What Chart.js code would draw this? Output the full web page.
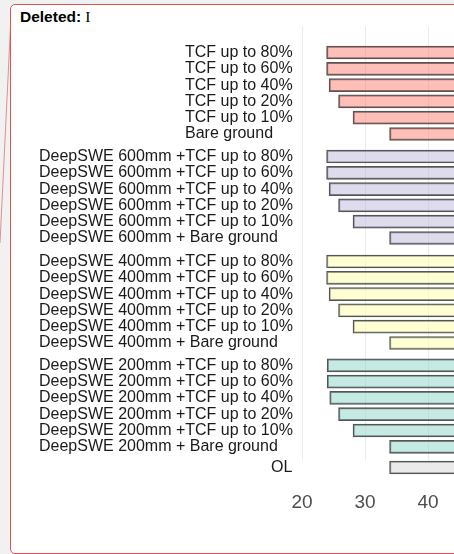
<!DOCTYPE html>
<html>
<head>
<meta charset="utf-8">
<script src="https://cdn.jsdelivr.net/npm/chart.js@4.4.1/dist/chart.umd.min.js"></script>
<style>
  html, body { margin:0; padding:0; width:454px; height:554px; overflow:hidden; background:#f1f1f1; }
  #box { position:absolute; left:10px; top:4px; width:600px; height:548px; border:1px solid #e35353; border-radius:5px; background:#fff; }
  #hdr { position:absolute; left:20px; top:8px; font:bold 15.5px "Liberation Sans", Arial, sans-serif; color:#000; white-space:nowrap; }
  #hdr span { font:normal 15.5px "Liberation Serif", "Times New Roman", serif; margin-left:4px; }
  #conn { position:absolute; left:0; top:0; }
  canvas { position:absolute; left:0; }
</style>
</head>
<body>
<svg id="conn" width="20" height="260"><line x1="11.5" y1="6" x2="0" y2="243" stroke="#e98a8a" stroke-width="1"/></svg>
<div id="box"></div>
<div id="hdr">Deleted:<span>I</span></div>
<canvas id="g1" width="491" height="119" style="top:26px"></canvas>
<canvas id="g2" width="491" height="104" style="top:145px"></canvas>
<canvas id="g3" width="491" height="105" style="top:249px"></canvas>
<canvas id="g4" width="491" height="106" style="top:354px"></canvas>
<canvas id="g5" width="491" height="60"  style="top:460px"></canvas>
<script>
// ---------- data ----------
const tcfLabels = ['TCF up to 80%','TCF up to 60%','TCF up to 40%','TCF up to 20%','TCF up to 10%','Bare ground'];
const tcfStart  = [23.9, 23.9, 24.3, 25.8, 28.1, 33.9];

const swe600Labels = ['DeepSWE 600mm +TCF up to 80%','DeepSWE 600mm +TCF up to 60%','DeepSWE 600mm +TCF up to 40%','DeepSWE 600mm +TCF up to 20%','DeepSWE 600mm +TCF up to 10%','DeepSWE 600mm + Bare ground'];
const swe600Start  = [23.9, 23.9, 24.3, 25.8, 28.1, 33.9];

const swe400Labels = ['DeepSWE 400mm +TCF up to 80%','DeepSWE 400mm +TCF up to 60%','DeepSWE 400mm +TCF up to 40%','DeepSWE 400mm +TCF up to 20%','DeepSWE 400mm +TCF up to 10%','DeepSWE 400mm + Bare ground'];
const swe400Start  = [23.9, 23.9, 24.3, 25.8, 28.1, 33.9];

const swe200Labels = ['DeepSWE 200mm +TCF up to 80%','DeepSWE 200mm +TCF up to 60%','DeepSWE 200mm +TCF up to 40%','DeepSWE 200mm +TCF up to 20%','DeepSWE 200mm +TCF up to 10%','DeepSWE 200mm + Bare ground'];
const swe200Start  = [24.0, 24.0, 24.4, 25.8, 28.1, 33.9];

const olLabels = ['OL'];
const olStart  = [33.9];

// right ends lie beyond the visible (cropped) area of the figure
const barEnd = [60, 60, 60, 60, 60, 60];
const olEnd  = [60];

const xTicks = [20, 30, 40];

// ---------- styling / layout ----------
const FONT = '"Liberation Sans", Arial, sans-serif';
const labelFont = { family: FONT, size: 16 };
const edge = '#555555';
const AXIS_X = 302;   // pixel where the panels start
const PAD = 9;        // gap between labels and panel

const measureCtx = document.createElement('canvas').getContext('2d');
measureCtx.font = '16px ' + FONT;
const widest = labels => Math.max(...labels.map(l => measureCtx.measureText(l).width));

function panel(id, labels, starts, ends, color, yMin, yMax, grid, axisH) {
  const w = Math.ceil(widest(labels));
  const padLeft = AXIS_X - PAD - w;
  return new Chart(document.getElementById(id), {
    type: 'bar',
    data: { datasets: [{
      data: labels.map((l, i) => ({ x: [starts[i], ends[i]], y: i })),
      backgroundColor: color, borderColor: edge, borderWidth: 1.3,
      borderSkipped: false, barThickness: 13, grouped: false
    }] },
    options: {
      indexAxis: 'y', responsive: false, animation: false,
      layout: { padding: { left: padLeft, right: 0, top: 0, bottom: 0 } },
      plugins: { legend: { display: false }, tooltip: { enabled: false } },
      scales: {
        x: {
          type: 'linear', min: 20, max: 50, offset: false,
          afterBuildTicks: s => { s.ticks = xTicks.map(v => ({ value: v })); },
          ticks: { display: axisH > 0, color: '#4d4d4d', padding: 16, maxRotation: 0,
                   font: { family: FONT, size: 19 } },
          grid: { display: grid, color: '#ebebeb', lineWidth: 1, drawTicks: false },
          border: { display: false },
          afterFit: s => { s.height = axisH; s.paddingLeft = 0; s.paddingRight = 0; }
        },
        y: {
          type: 'linear', reverse: true, min: yMin, max: yMax, offset: false,
          afterBuildTicks: s => { s.ticks = labels.map((l, i) => ({ value: i })); },
          ticks: { autoSkip: false, padding: PAD, color: '#1a1a1a', font: labelFont,
                   crossAlign: 'far', callback: v => labels[v] ?? '' },
          grid: { display: false, drawTicks: false, offset: false },
          border: { display: false },
          afterFit: s => { s.width = AXIS_X - padLeft; s.paddingTop = 0; s.paddingBottom = 0; }
        }
      }
    }
  });
}

panel('g1', tcfLabels,    tcfStart,    barEnd, 'rgba(251,128,114,0.5)', -1.626, 5.675, true, 0);
panel('g2', swe600Labels, swe600Start, barEnd, 'rgba(190,186,218,0.5)', -0.706, 5.675, true, 0);
panel('g3', swe400Labels, swe400Start, barEnd, 'rgba(255,255,179,0.55)', -0.767, 5.675, true, 0);
panel('g4', swe200Labels, swe200Start, barEnd, 'rgba(141,211,199,0.5)', -0.693, 5.81, true, 0);
panel('g5', olLabels,     olStart,     olEnd,  'rgba(217,217,217,0.55)', -0.5, 0.5, false, 45);
</script>
</body>
</html>
